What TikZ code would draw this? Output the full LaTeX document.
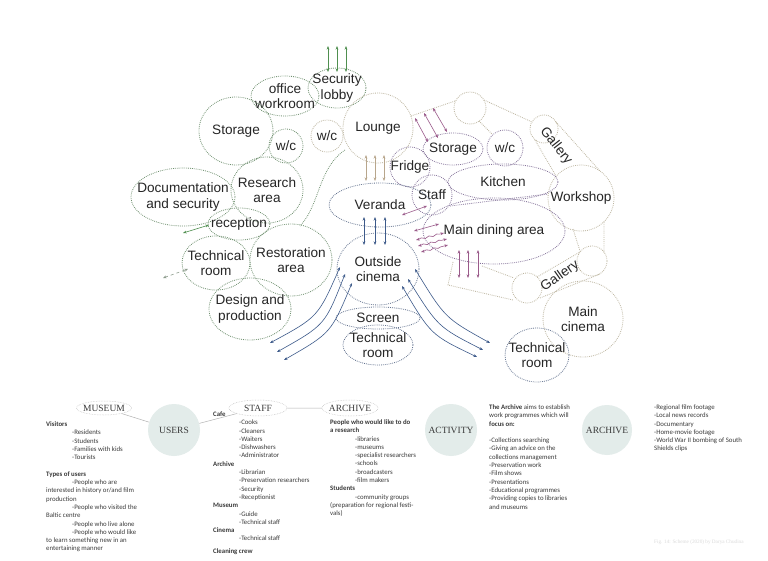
\documentclass[tikz,border=0pt]{standalone}
\usepackage{fontspec}
\setmainfont{Liberation Sans}
\newfontfamily\calfont{Carlito}
\newfontfamily\tmsfont{Liberation Serif}
\usetikzlibrary{shapes.geometric,arrows.meta,decorations.pathmorphing}
\definecolor{grn}{HTML}{6F906F}
\definecolor{grna}{HTML}{4F8F4F}
\definecolor{grnd}{HTML}{8A9A8A}
\definecolor{tanl}{HTML}{BDB6A0}
\definecolor{tana}{HTML}{B8A68C}
\definecolor{purl}{HTML}{85739A}
\definecolor{pura}{HTML}{9A5A8A}
\definecolor{blul}{HTML}{63738F}
\definecolor{blua}{HTML}{3D5A8A}
\definecolor{txt}{HTML}{262626}
\definecolor{txtb}{HTML}{3A3A3A}
\definecolor{cfill}{HTML}{E3ECEA}
\newcommand{\Room}[7]{%
  \node[#6, minimum width={2*#4}, minimum height={2*#5}] (#1) at (#2,#3) {};
  \node[lbl] (#1-t) at (#2,#3) {#7};}
\tikzset{
  shp/.style={ellipse, inner sep=0pt, line width=0.8pt, dash pattern=on 0.8pt off 1.1pt},
  gsh/.style={shp, draw=grn},
  tsh/.style={shp, draw=tanl},
  psh/.style={shp, draw=purl},
  bsh/.style={shp, draw=blul},
  lbl/.style={font=\fontsize{13.6}{15.5}\selectfont, text=txt, align=center, inner sep=0pt},
  dline/.style={line width=0.8pt, dash pattern=on 0.8pt off 1.1pt},
  arr/.style={{Stealth[length=3.6pt,width=2.8pt]}-{Stealth[length=3.6pt,width=2.8pt]}, line width=0.6pt},
  wavy/.style={arr, decorate, decoration={snake, amplitude=0.8pt, segment length=8pt, pre length=3pt, post length=4pt}},
  txtblk/.style={font=\calfont\fontsize{6.8}{8.3}\selectfont, align=left, inner sep=0pt, text=txtb, anchor=north west},
  head/.style={font=\tmsfont\fontsize{9.5}{10}\selectfont, text=txtb},
  hell/.style={ellipse, draw=gray!50, dash pattern=on 0.6pt off 1pt, line width=0.5pt, fill=white, inner sep=0pt},
  hcirc/.style={circle, fill=cfill, inner sep=0pt, minimum size=52pt},
}
\begin{document}
\begin{tikzpicture}[x=1pt,y=-1pt]
\fill[white] (0,0) rectangle (768,561);
\path[use as bounding box] (0,0) rectangle (768,561);

% ---------- museum (green) ----------
\Room{sec}{337}{88}{29}{20}{gsh}{Security\\lobby}
\Room{off}{285}{96}{34}{20}{gsh}{office\\workroom}
\Room{stg}{236}{131}{37}{34}{gsh}{Storage}
\Room{gwc}{286}{146}{17}{17}{gsh}{w/c}
\Room{res}{267}{190}{36}{33}{gsh}{Research\\area}
\Room{doc}{183}{197}{52}{29}{gsh}{Documentation\\and security}
\Room{rec}{239}{224}{31}{16}{gsh}{reception}
\Room{tec1}{216}{263}{34}{27}{gsh}{Technical\\room}
\Room{rest}{291}{260}{41}{36}{gsh}{Restoration\\area}
\Room{des}{250}{309}{41}{31}{gsh}{Design and\\production}
\coordinate (gc1) at (345,150);
\coordinate (gc2) at (300,226);
\draw[dline, draw=grn] (gc1) .. controls (318,168) and (320,205) .. (gc2);
\foreach \i/\x in {1/328,2/337,3/346}{
  \coordinate (ga\i s) at (\x,46);
  \coordinate (ga\i e) at (\x,72);
  \draw[arr, draw=grna] (ga\i s) -- (ga\i e);
}
\coordinate (gr1) at (183,233);
\coordinate (gr2) at (209,225);
\draw[arr, draw=grna] (gr1) -- (gr2);
\coordinate (gt1) at (163,278);
\coordinate (gt2) at (188,269);
\draw[arr, draw=grnd, dashed] (gt1) -- (gt2);

% ---------- cafe / tan frame ----------
\Room{twc}{327}{136}{16}{16}{tsh}{w/c}
\Room{lng}{378}{128}{35}{35}{tsh}{Lounge}
\node[tsh, minimum width=32pt, minimum height=32pt] (tA) at (470,108) {};
\node[tsh, minimum width=28pt, minimum height=28pt] (gal1) at (544,129) {};
\node[lbl, rotate=-52] (gal1-t) at (556,146) {Gallery};
\Room{wks}{581}{198}{33}{33}{tsh}{Workshop}
\node[tsh, minimum width=30pt, minimum height=30pt] (gal2L) at (527,288) {};
\node[tsh, minimum width=30pt, minimum height=30pt] (gal2R) at (592,261) {};
\node[lbl, rotate=35] (gal2-t) at (560,276) {Gallery};
\Room{mcin}{583}{319}{40}{38}{tsh}{Main\\cinema}
\coordinate (f1) at (411,116); \coordinate (f2) at (455,101);
\coordinate (f3) at (484,100); \coordinate (f4) at (532,122);
\coordinate (f5) at (479,121); \coordinate (f6) at (492,134);
\coordinate (f7) at (535,140); \coordinate (f8) at (556,176);
\coordinate (f9) at (556,122); \coordinate (f10) at (600,171);
\coordinate (f11) at (573,229); \coordinate (f12) at (580,251);
\coordinate (f13) at (604,222); \coordinate (f14) at (604,253);
\coordinate (f15) at (537,277); \coordinate (f16) at (580,252);
\coordinate (f17) at (540,298); \coordinate (f18) at (600,274);
\coordinate (f19) at (453,262); \coordinate (f20) at (448,285); \coordinate (f21) at (513,300);
\coordinate (f22) at (482,266); \coordinate (f23) at (514,278);
\draw[dline, draw=tanl] (f1) -- (f2) (f3) -- (f4) (f5) -- (f6) (f7) -- (f8) (f9) -- (f10)
  (f11) -- (f12) (f13) -- (f14) (f15) -- (f16) (f17) -- (f18) (f19) -- (f20) -- (f21) (f22) -- (f23);
\foreach \i/\x in {1/366,2/375,3/384}{
  \coordinate (ta\i s) at (\x,155);
  \coordinate (ta\i e) at (\x,181);
  \draw[arr, draw=tana] (ta\i s) -- (ta\i e);
}

% ---------- cafe (purple) ----------
\Room{pstg}{453}{149}{30}{16}{psh}{Storage}
\Room{pwc}{505}{148}{18}{18}{psh}{w/c}
\Room{kit}{503}{182}{55}{18}{psh}{Kitchen}
\Room{mda}{494}{231}{71}{33}{psh}{Main dining area}
\Room{frg}{410}{167}{20}{20}{psh}{Fridge}
\Room{stf}{432}{195}{20}{20}{psh}{Staff}
\coordinate (p1) at (450,206); \coordinate (p2) at (548,194);
\draw[dline, draw=purl] (p1) -- (p2);
\foreach \i/\a/\b/\c/\d in {1/415/118/428/142,2/424/113/438/138,3/433/108/447/132}{
  \coordinate (pa\i s) at (\a,\b);
  \coordinate (pa\i e) at (\c,\d);
  \draw[arr, draw=pura] (pa\i s) -- (pa\i e);
}
\coordinate (pv1) at (402,215); \coordinate (pv2) at (427,206);
\draw[arr, draw=pura] (pv1) -- (pv2);
\coordinate (pm1) at (414,231); \coordinate (pm2) at (439,224);
\draw[arr, draw=pura] (pm1) -- (pm2);
\foreach \i/\a/\b/\c/\d in {1/416/240/444/233,2/418/246/447/239,3/421/252/448/245}{
  \coordinate (pw\i s) at (\a,\b);
  \coordinate (pw\i e) at (\c,\d);
  \draw[wavy, draw=pura] (pw\i s) -- (pw\i e);
}
\foreach \i/\x in {1/459,2/468,3/478}{
  \coordinate (pd\i s) at (\x,250);
  \coordinate (pd\i e) at (\x,278);
  \draw[arr, draw=pura] (pd\i s) -- (pd\i e);
}

% ---------- cinema (blue) ----------
\Room{ver}{380}{205}{51}{22}{bsh}{Veranda}
\Room{oc}{378}{269}{41}{36}{bsh}{Outside\\cinema}
\Room{scr}{378}{318}{42}{11}{bsh}{Screen}
\Room{tec2}{378}{345}{35}{20}{bsh}{Technical\\room}
\Room{tec3}{537}{355}{32}{27}{bsh}{Technical\\room}
\foreach \i/\x in {1/364,2/375,3/385}{
  \coordinate (ba\i s) at (\x,217);
  \coordinate (ba\i e) at (\x,245);
  \draw[arr, draw=blua] (ba\i s) -- (ba\i e);
}
\foreach \i/\a/\b/\p/\q/\c/\d in {1/270/343/318/317/340/267,2/277/352/325/325/345/274,3/284/360/331/333/352/283}{
  \coordinate (bl\i s) at (\a,\b);
  \coordinate (bl\i e) at (\c,\d);
  \draw[arr, draw=blua] (bl\i s) .. controls (\p,\q) .. (bl\i e);
}
\foreach \i/\a/\b/\p/\q/\c/\d in {1/415/269/445/318/490/343,2/408/279/438/327/483/350,3/402/286/431/335/477/357}{
  \coordinate (br\i s) at (\a,\b);
  \coordinate (br\i e) at (\c,\d);
  \draw[arr, draw=blua] (br\i s) .. controls (\p,\q) .. (br\i e);
}

% ---------- bottom legend ----------
\node[hcirc] (usr) at (174,430) {};
\node[head] (usr-t) at (usr) {USERS};
\node[hell, minimum width=55pt, minimum height=14pt] (mus) at (104,408) {};
\node[head] (mus-t) at (mus) {MUSEUM};
\node[hell, minimum width=58pt, minimum height=16pt] (stfe) at (258,408) {};
\node[head] (stfe-t) at (stfe) {STAFF};
\node[hell, minimum width=56pt, minimum height=16pt] (arce) at (350,408) {};
\node[head] (arce-t) at (arce) {ARCHIVE};
\draw[gray!60, line width=0.5pt] (mus) -- (usr) (usr) -- (stfe) (stfe) -- (arce);
\node[hcirc] (act) at (451,430) {};
\node[head] (act-t) at (act) {ACTIVITY};
\node[hcirc, minimum size=50pt] (arc2) at (607,430) {};
\node[head] (arc2-t) at (arc2) {ARCHIVE};

\node[txtblk] (b1) at (46,421.5) {%
\textbf{Visitors}\\
\hspace*{26pt}-Residents\\
\hspace*{26pt}-Students\\
\hspace*{26pt}-Families with kids\\
\hspace*{26pt}-Tourists\\[8.3pt]
\textbf{Types of users}\\
\hspace*{26pt}-People who are\\
interested in history or/and film\\
production\\
\hspace*{26pt}-People who visited the\\
Baltic centre\\
\hspace*{26pt}-People who live alone\\
\hspace*{26pt}-People who would like\\
to learn something new in an\\
entertaining manner};

\node[txtblk] (b2) at (213,411.5) {%
\textbf{Cafe}\\
\hspace*{26pt}-Cooks\\
\hspace*{26pt}-Cleaners\\
\hspace*{26pt}-Waiters\\
\hspace*{26pt}-Dishwashers\\
\hspace*{26pt}-Administrator\\
\textbf{Archive}\\
\hspace*{26pt}-Librarian\\
\hspace*{26pt}-Preservation researchers\\
\hspace*{26pt}-Security\\
\hspace*{26pt}-Receptionist\\
\textbf{Museum}\\
\hspace*{26pt}-Guide\\
\hspace*{26pt}-Technical staff\\
\textbf{Cinema}\\
\hspace*{26pt}-Technical staff\\[4pt]
\textbf{Cleaning crew}};

\node[txtblk] (b3) at (330,419.5) {%
\textbf{People who would like to do}\\
\textbf{a research}\\
\hspace*{25pt}-libraries\\
\hspace*{25pt}-museums\\
\hspace*{25pt}-specialist researchers\\
\hspace*{25pt}-schools\\
\hspace*{25pt}-broadcasters\\
\hspace*{25pt}-film makers\\
\textbf{Students}\\
\hspace*{25pt}-community groups\\
(preparation for regional festi-\\
vals)};

\node[txtblk] (b4) at (489,404.5) {%
\textbf{The Archive} aims to establish\\
work programmes which will\\
\textbf{focus on:}\\[8.3pt]
-Collections searching\\
-Giving an advice on the\\
collections management\\
-Preservation work\\
-Film shows\\
-Presentations\\
-Educational programmes\\
-Providing copies to libraries\\
and museums};

\node[txtblk] (b5) at (654,404.5) {%
-Regional film footage\\
-Local news records\\
-Documentary\\
-Home-movie footage\\
-World War II bombing of South\\
Shields clips};

\node[font=\tmsfont\fontsize{5.2}{6}\selectfont, text=black!14, anchor=west, inner sep=0pt] (cap) at (654,542) {Fig. 14: Scheme (2020) by Darya Chudina};
\end{tikzpicture}
\end{document}
